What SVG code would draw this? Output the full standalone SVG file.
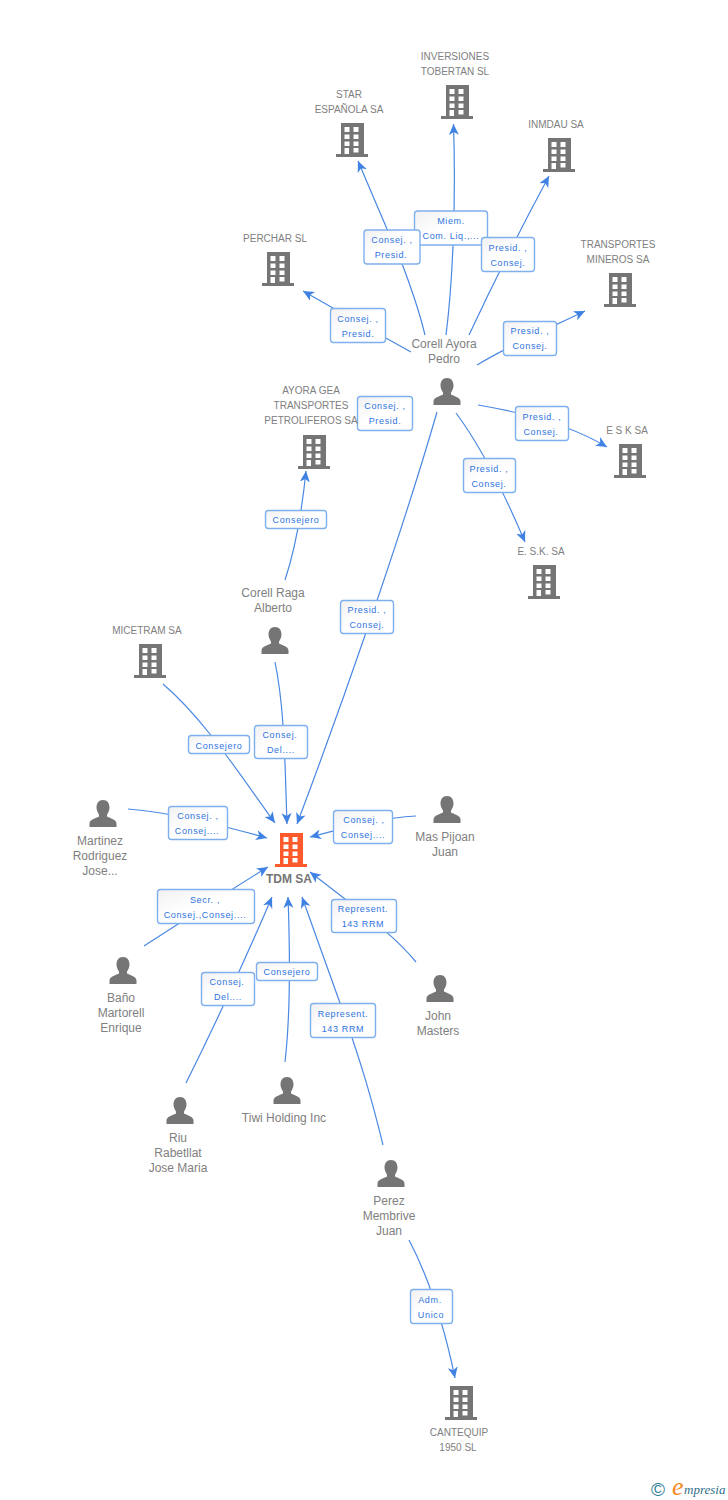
<svg xmlns="http://www.w3.org/2000/svg" width="728" height="1500" viewBox="0 0 728 1500">
<style>
text{font-family:"Liberation Sans",Arial,sans-serif}
.n{font-size:10px;fill:#808080;text-anchor:middle}
.p{font-size:12px;fill:#808080;text-anchor:middle}
.e{font-size:9px;fill:#2f74e0;text-anchor:middle;letter-spacing:.65px}
.c{fill:none;stroke:#4a88e4;stroke-width:1.2}
.a{marker-end:url(#ah)}
.b{fill:url(#bg);stroke:#7fb0ee;stroke-width:1.4}
</style>
<defs>
<linearGradient id="bg" x1="0" y1="0" x2="1" y2="1"><stop offset="0" stop-color="#f1f1f1"/><stop offset=".45" stop-color="#fff"/></linearGradient>
<marker id="ah" markerUnits="userSpaceOnUse" markerWidth="14" markerHeight="12" refX="11" refY="5" orient="auto"><path d="M11,5 L0,0 L3,5 L0,10 Z" fill="#3f82e3"/></marker>
<g id="bld"><path fill-rule="evenodd" d="M-11 0H12V31H16V34H-16V31H-11ZM-7.500 4V9H-2.500V4ZM1.500 4V9H6.500V4ZM-7.500 11.500V16H-2.500V11.500ZM1.500 11.500V16H6.500V11.500ZM-7.500 18.500V23H-2.500V18.500ZM1.500 18.500V23H6.500V18.500ZM-7.500 25V31H-3V25ZM1.500 25V29.500H6.500V25Z"/></g>
<g id="per"><path d="M0 0C4.500 0 6.500 3.500 6.500 7.500C6.500 10.500 5 13 4 14.500V16.500C6 18 13.500 19 13.500 23.500V27H-13.500V23.500C-13.500 19-6 18-4 16.500V14.500C-5 13-6.500 10.500-6.500 7.500C-6.500 3.500-4.500 0 0 0Z"/></g>
</defs>
<rect width="728" height="1500" fill="#fff"/>
<g id="connectors">
<path class="c a" d="M425 335C418 305 400 255 387 229L358 161"/>
<path class="c a" d="M446 335C453 280 456 200 453.500 124"/>
<path class="c a" d="M469 335C490 290 520 230 549 176"/>
<path class="c a" d="M411 352C380 335 340 312 303 291"/>
<path class="c a" d="M477 365C510 345 550 328 585 311"/>
<path class="c a" d="M478 405C520 412 570 425 607 447"/>
<path class="c a" d="M456 413C480 445 505 495 525 542"/>
<path class="c a" d="M285 580C295 550 302 510 306 471"/>
<path class="c a" d="M437 412C400 540 340 710 297 824"/>
<path class="c a" d="M275 662C285 710 285 770 287 824"/>
<path class="c a" d="M163 684C205 720 240 775 275 823"/>
<path class="c a" d="M128 809C170 812 220 825 267 838"/>
<path class="c a" d="M416 816C380 818 345 828 310 837"/>
<path class="c a" d="M144 946C185 920 230 890 268 867"/>
<path class="c a" d="M416 962C398 940 375 922 345 899L310 872"/>
<path class="c a" d="M186 1083C215 1025 245 960 272 897"/>
<path class="c a" d="M285 1062C291 1010 290 950 288 897"/>
<path class="c a" d="M383 1145C372 1100 362 1065 340 1003L302 897"/>
<path class="c a" d="M409 1240C430 1280 445 1330 455 1378"/>
</g>
<g id="edge-labels">
<g><rect class="b" x="414.500" y="211" width="73" height="34" rx="3"/><text class="e" x="451" y="224">Miem.</text><text class="e" x="451" y="239">Com. Liq.,...</text></g>
<g><rect class="b" x="364" y="230" width="56" height="34" rx="3"/><text class="e" x="392" y="243">Consej. ,</text><text class="e" x="391" y="258">Presid.</text></g>
<g><rect class="b" x="481.500" y="237.500" width="53" height="34" rx="3"/><text class="e" x="508" y="251">Presid. ,</text><text class="e" x="508" y="266">Consej.</text></g>
<g><rect class="b" x="330.500" y="308.500" width="55" height="34" rx="3"/><text class="e" x="358" y="322">Consej. ,</text><text class="e" x="358" y="337">Presid.</text></g>
<g><rect class="b" x="503.500" y="321.500" width="53" height="34" rx="3"/><text class="e" x="530" y="334">Presid. ,</text><text class="e" x="530" y="349">Consej.</text></g>
<g><rect class="b" x="357.500" y="396.500" width="55" height="34" rx="3"/><text class="e" x="385" y="409">Consej. ,</text><text class="e" x="385" y="424">Presid.</text></g>
<g><rect class="b" x="515.500" y="406.500" width="53" height="34" rx="3"/><text class="e" x="542" y="420">Presid. ,</text><text class="e" x="541" y="435">Consej.</text></g>
<g><rect class="b" x="463.500" y="458.500" width="52" height="34" rx="3"/><text class="e" x="489" y="472">Presid. ,</text><text class="e" x="489" y="487">Consej.</text></g>
<g><rect class="b" x="265.500" y="510.500" width="61" height="18" rx="3"/><text class="e" x="296" y="523">Consejero</text></g>
<g><rect class="b" x="340.500" y="600.500" width="53" height="33" rx="3"/><text class="e" x="367" y="613">Presid. ,</text><text class="e" x="367" y="628">Consej.</text></g>
<g><rect class="b" x="188.500" y="735.500" width="61" height="18" rx="3"/><text class="e" x="219" y="749">Consejero</text></g>
<g><rect class="b" x="254.500" y="725.500" width="53" height="33" rx="3"/><text class="e" x="280" y="738">Consej.</text><text class="e" x="281" y="753">Del....</text></g>
<g><rect class="b" x="168.500" y="806.500" width="59" height="33" rx="3"/><text class="e" x="198" y="819">Consej. ,</text><text class="e" x="197" y="834">Consej....</text></g>
<g><rect class="b" x="333.500" y="810.500" width="59" height="33" rx="3"/><text class="e" x="364" y="823">Consej. ,</text><text class="e" x="363" y="838">Consej....</text></g>
<g><rect class="b" x="157.500" y="889.500" width="97" height="34" rx="3"/><text class="e" x="205" y="903">Secr. ,</text><text class="e" x="205" y="918">Consej.,Consej....</text></g>
<g><rect class="b" x="331.500" y="899.500" width="65" height="33" rx="3"/><text class="e" x="363" y="912">Represent.</text><text class="e" x="363" y="927">143 RRM</text></g>
<g><rect class="b" x="201.500" y="972.500" width="53" height="33" rx="3"/><text class="e" x="227" y="985">Consej.</text><text class="e" x="228" y="1000">Del....</text></g>
<g><rect class="b" x="256.500" y="962.500" width="61" height="18" rx="3"/><text class="e" x="287" y="975">Consejero</text></g>
<g><rect class="b" x="310.500" y="1003.500" width="65" height="34" rx="3"/><text class="e" x="343" y="1017">Represent.</text><text class="e" x="343" y="1032">143 RRM</text></g>
<g><rect class="b" x="410.500" y="1289.500" width="42" height="34" rx="3"/><text class="e" x="430" y="1303">Adm.</text><text class="e" x="431" y="1318">Unico</text></g>
</g>
<g id="n-inversiones" fill="#757575"><use href="#bld" x="457" y="85"/><text class="n" x="455" y="60">INVERSIONES</text><text class="n" x="455" y="75">TOBERTAN SL</text></g>
<g id="n-star" fill="#757575"><use href="#bld" x="352" y="123"/><text class="n" x="349" y="98">STAR</text><text class="n" x="349" y="113">ESPAÑOLA SA</text></g>
<g id="n-inmdau" fill="#757575"><use href="#bld" x="559" y="138"/><text class="n" x="556" y="128">INMDAU SA</text></g>
<g id="n-perchar" fill="#757575"><use href="#bld" x="278" y="252"/><text class="n" x="275" y="242">PERCHAR SL</text></g>
<g id="n-transportes" fill="#757575"><use href="#bld" x="620" y="273"/><text class="n" x="618" y="248">TRANSPORTES</text><text class="n" x="618" y="263">MINEROS SA</text></g>
<g id="n-ayora" fill="#757575"><use href="#bld" x="314" y="435"/><text class="n" x="311" y="394">AYORA GEA</text><text class="n" x="311" y="409">TRANSPORTES</text><text class="n" x="311" y="424">PETROLIFEROS SA</text></g>
<g id="n-esk1" fill="#757575"><use href="#bld" x="630" y="444"/><text class="n" x="627" y="434">E S K SA</text></g>
<g id="n-esk2" fill="#757575"><use href="#bld" x="544" y="565"/><text class="n" x="541" y="555">E. S.K. SA</text></g>
<g id="n-micetram" fill="#757575"><use href="#bld" x="150" y="644"/><text class="n" x="147" y="634">MICETRAM SA</text></g>
<g id="n-cantequip" fill="#757575"><use href="#bld" x="461" y="1386"/><text class="n" x="459" y="1436">CANTEQUIP</text><text class="n" x="458" y="1451">1950 SL</text></g>
<g id="n-tdm"><use href="#bld" x="291" y="833" fill="#ff5a2b"/><text x="289" y="883" font-size="12" font-weight="bold" fill="#757575" text-anchor="middle">TDM SA</text></g>
<g id="n-corell-ayora" fill="#757575"><use href="#per" x="447" y="378"/><text class="p" x="444" y="348">Corell Ayora</text><text class="p" x="444" y="363">Pedro</text></g>
<g id="n-corell-raga" fill="#757575"><use href="#per" x="275" y="627"/><text class="p" x="273" y="597">Corell Raga</text><text class="p" x="273" y="612">Alberto</text></g>
<g id="n-martinez" fill="#757575"><use href="#per" x="103" y="800"/><text class="p" x="100" y="845">Martinez</text><text class="p" x="100" y="860">Rodriguez</text><text class="p" x="100" y="875">Jose...</text></g>
<g id="n-mas" fill="#757575"><use href="#per" x="447" y="796"/><text class="p" x="445" y="841">Mas Pijoan</text><text class="p" x="445" y="856">Juan</text></g>
<g id="n-bano" fill="#757575"><use href="#per" x="123" y="957"/><text class="p" x="121" y="1002">Baño</text><text class="p" x="121" y="1017">Martorell</text><text class="p" x="121" y="1032">Enrique</text></g>
<g id="n-john" fill="#757575"><use href="#per" x="440" y="975"/><text class="p" x="438" y="1020">John</text><text class="p" x="438" y="1035">Masters</text></g>
<g id="n-riu" fill="#757575"><use href="#per" x="180" y="1097"/><text class="p" x="178" y="1142">Riu</text><text class="p" x="178" y="1157">Rabetllat</text><text class="p" x="178" y="1172">Jose Maria</text></g>
<g id="n-tiwi" fill="#757575"><use href="#per" x="287" y="1077"/><text class="p" x="284" y="1122">Tiwi Holding Inc</text></g>
<g id="n-perez" fill="#757575"><use href="#per" x="391" y="1160"/><text class="p" x="389" y="1205">Perez</text><text class="p" x="389" y="1220">Membrive</text><text class="p" x="389" y="1235">Juan</text></g>
<g id="logo"><text x="651" y="1496" font-size="19" fill="#2f7f96">©</text><text x="672" y="1495" font-size="26" font-style="italic" fill="#f58a1f" style="font-family:'Liberation Serif',serif">e</text><text x="684" y="1494" font-size="13" font-style="italic" fill="#2f6f8a" style="font-family:'Liberation Serif',serif">mpresia</text></g>
</svg>
